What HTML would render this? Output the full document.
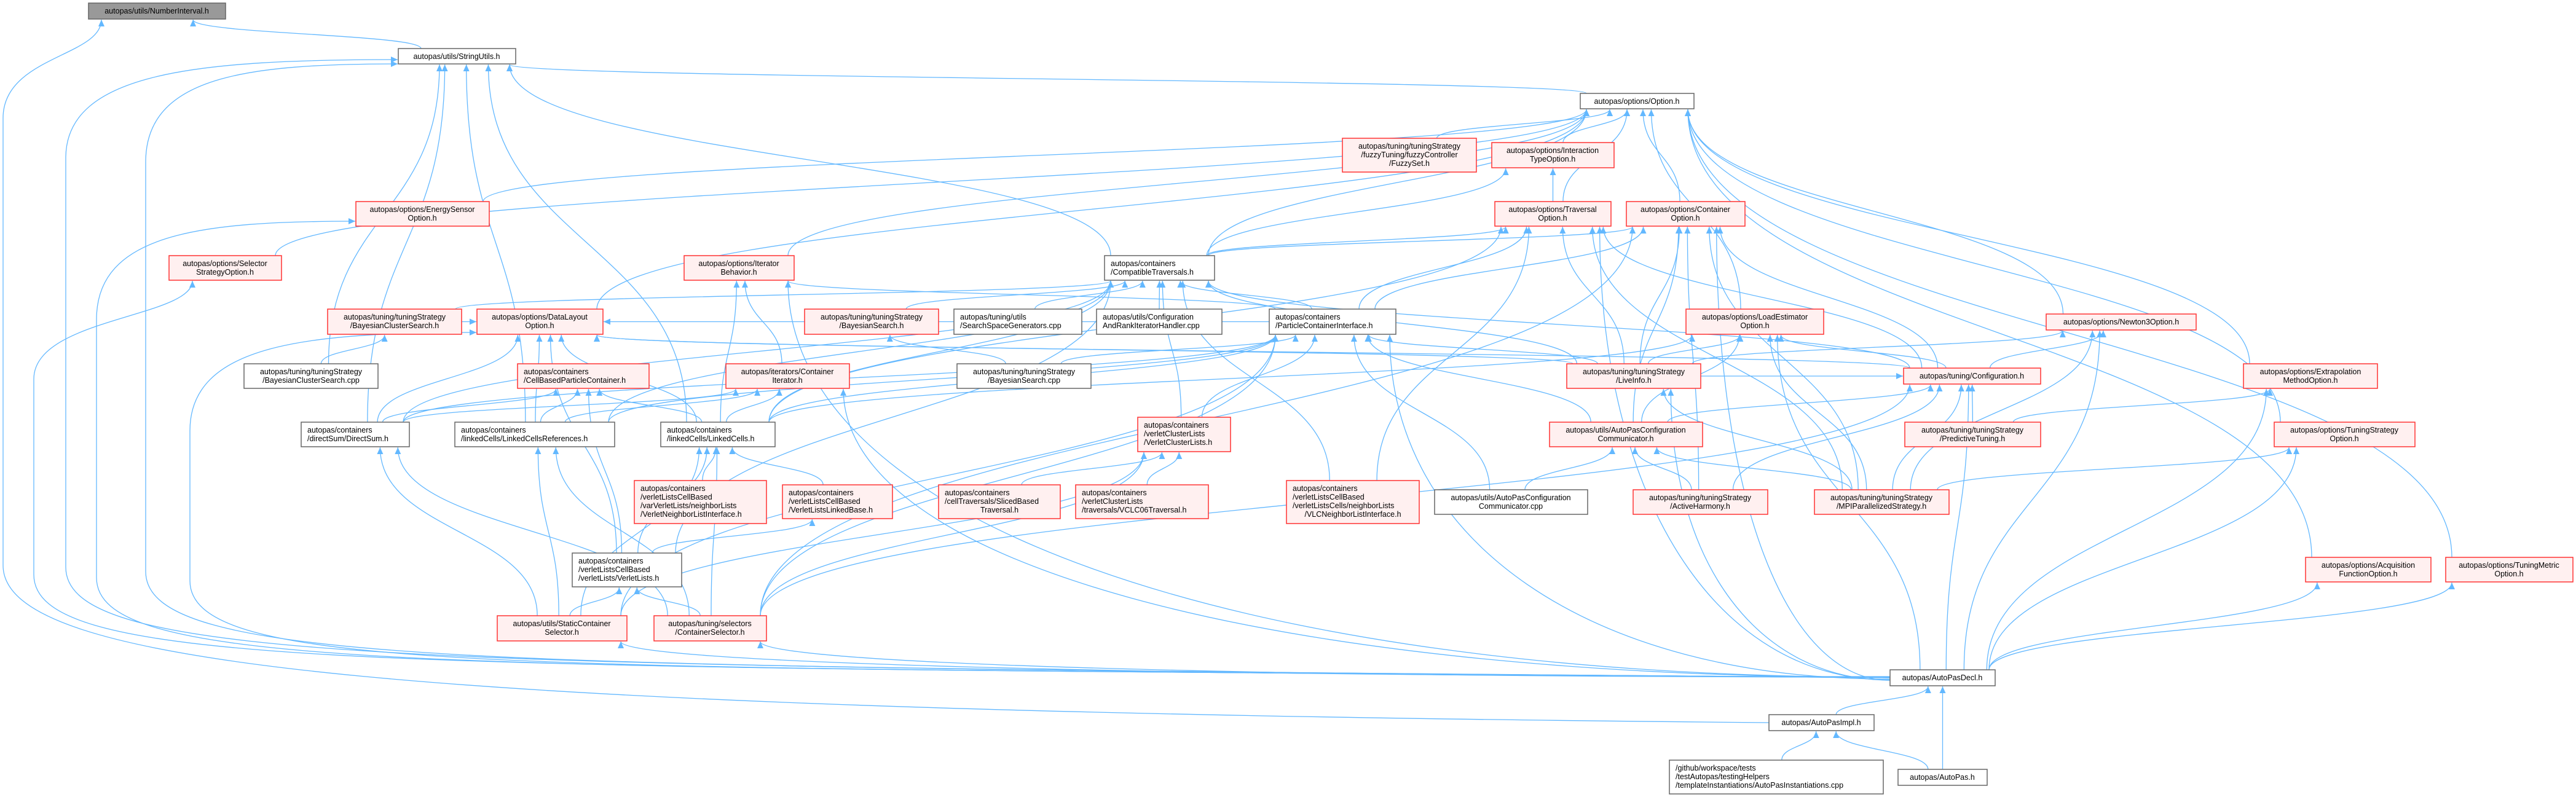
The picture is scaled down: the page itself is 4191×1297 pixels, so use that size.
<!DOCTYPE html>
<html><head><meta charset="utf-8">
<style>
html,body{margin:0;padding:0;background:#fff;}
svg{display:block;}
text{font-family:"Liberation Sans",sans-serif;font-size:12.5px;fill:#000;}
</style></head>
<body>
<svg id="g" width="4191" height="1297" viewBox="0 0 4191 1297" xmlns="http://www.w3.org/2000/svg">
<defs>
<marker id="a" markerUnits="userSpaceOnUse" markerWidth="12" markerHeight="10" refX="11" refY="5" orient="auto">
<path d="M0,0 L11,5 L0,10 z" fill="#63b8ff"/>
</marker>
</defs>
<g id="edges" fill="none" stroke="#63b8ff" stroke-width="1.3"></g>
<g id="nodes">
<rect x="144" y="5" width="223" height="26" fill="#999" stroke="#666" stroke-width="1.5"/><text x="255" y="22" text-anchor="middle">autopas/utils/NumberInterval.h</text>
<rect x="648" y="79" width="191" height="25" fill="#fff" stroke="#666" stroke-width="1.5"/><text x="743" y="96" text-anchor="middle">autopas/utils/StringUtils.h</text>
<rect x="2571" y="152" width="185" height="25" fill="#fff" stroke="#666" stroke-width="1.5"/><text x="2663" y="169" text-anchor="middle">autopas/options/Option.h</text>
<rect x="2184" y="225" width="218" height="55" fill="#fff0f0" stroke="#f33" stroke-width="1.5"/><text x="2293" y="242" text-anchor="middle">autopas/tuning/tuningStrategy</text><text x="2293" y="256" text-anchor="middle">/fuzzyTuning/fuzzyController</text><text x="2293" y="270" text-anchor="middle">/FuzzySet.h</text>
<rect x="2427" y="232" width="199" height="41" fill="#fff0f0" stroke="#f33" stroke-width="1.5"/><text x="2526" y="249" text-anchor="middle">autopas/options/Interaction</text><text x="2526" y="263" text-anchor="middle">TypeOption.h</text>
<rect x="579" y="328" width="217" height="40" fill="#fff0f0" stroke="#f33" stroke-width="1.5"/><text x="687" y="345" text-anchor="middle">autopas/options/EnergySensor</text><text x="687" y="359" text-anchor="middle">Option.h</text>
<rect x="2432" y="328" width="189" height="40" fill="#fff0f0" stroke="#f33" stroke-width="1.5"/><text x="2526" y="345" text-anchor="middle">autopas/options/Traversal</text><text x="2526" y="359" text-anchor="middle">Option.h</text>
<rect x="2646" y="328" width="193" height="40" fill="#fff0f0" stroke="#f33" stroke-width="1.5"/><text x="2742" y="345" text-anchor="middle">autopas/options/Container</text><text x="2742" y="359" text-anchor="middle">Option.h</text>
<rect x="275" y="416" width="183" height="40" fill="#fff0f0" stroke="#f33" stroke-width="1.5"/><text x="366" y="433" text-anchor="middle">autopas/options/Selector</text><text x="366" y="447" text-anchor="middle">StrategyOption.h</text>
<rect x="1113" y="416" width="179" height="40" fill="#fff0f0" stroke="#f33" stroke-width="1.5"/><text x="1202" y="433" text-anchor="middle">autopas/options/Iterator</text><text x="1202" y="447" text-anchor="middle">Behavior.h</text>
<rect x="1797" y="416" width="179" height="40" fill="#fff" stroke="#666" stroke-width="1.5"/><text x="1807" y="433">autopas/containers</text><text x="1807" y="447">/CompatibleTraversals.h</text>
<rect x="533" y="503" width="218" height="41" fill="#fff0f0" stroke="#f33" stroke-width="1.5"/><text x="642" y="520" text-anchor="middle">autopas/tuning/tuningStrategy</text><text x="642" y="534" text-anchor="middle">/BayesianClusterSearch.h</text>
<rect x="776" y="503" width="205" height="41" fill="#fff0f0" stroke="#f33" stroke-width="1.5"/><text x="878" y="520" text-anchor="middle">autopas/options/DataLayout</text><text x="878" y="534" text-anchor="middle">Option.h</text>
<rect x="1309" y="503" width="218" height="41" fill="#fff0f0" stroke="#f33" stroke-width="1.5"/><text x="1418" y="520" text-anchor="middle">autopas/tuning/tuningStrategy</text><text x="1418" y="534" text-anchor="middle">/BayesianSearch.h</text>
<rect x="1552" y="503" width="208" height="41" fill="#fff" stroke="#666" stroke-width="1.5"/><text x="1562" y="520">autopas/tuning/utils</text><text x="1562" y="534">/SearchSpaceGenerators.cpp</text>
<rect x="1784" y="503" width="204" height="41" fill="#fff" stroke="#666" stroke-width="1.5"/><text x="1794" y="520">autopas/utils/Configuration</text><text x="1794" y="534">AndRankIteratorHandler.cpp</text>
<rect x="2065" y="503" width="206" height="41" fill="#fff" stroke="#666" stroke-width="1.5"/><text x="2075" y="520">autopas/containers</text><text x="2075" y="534">/ParticleContainerInterface.h</text>
<rect x="2743" y="503" width="224" height="41" fill="#fff0f0" stroke="#f33" stroke-width="1.5"/><text x="2855" y="520" text-anchor="middle">autopas/options/LoadEstimator</text><text x="2855" y="534" text-anchor="middle">Option.h</text>
<rect x="3329" y="511" width="244" height="26" fill="#fff0f0" stroke="#f33" stroke-width="1.5"/><text x="3451" y="528" text-anchor="middle">autopas/options/Newton3Option.h</text>
<rect x="397" y="592" width="218" height="40" fill="#fff" stroke="#666" stroke-width="1.5"/><text x="506" y="609" text-anchor="middle">autopas/tuning/tuningStrategy</text><text x="506" y="623" text-anchor="middle">/BayesianClusterSearch.cpp</text>
<rect x="842" y="592" width="214" height="40" fill="#fff0f0" stroke="#f33" stroke-width="1.5"/><text x="852" y="609">autopas/containers</text><text x="852" y="623">/CellBasedParticleContainer.h</text>
<rect x="1181" y="592" width="201" height="40" fill="#fff0f0" stroke="#f33" stroke-width="1.5"/><text x="1281" y="609" text-anchor="middle">autopas/iterators/Container</text><text x="1281" y="623" text-anchor="middle">Iterator.h</text>
<rect x="1557" y="592" width="218" height="40" fill="#fff" stroke="#666" stroke-width="1.5"/><text x="1666" y="609" text-anchor="middle">autopas/tuning/tuningStrategy</text><text x="1666" y="623" text-anchor="middle">/BayesianSearch.cpp</text>
<rect x="2549" y="592" width="218" height="40" fill="#fff0f0" stroke="#f33" stroke-width="1.5"/><text x="2658" y="609" text-anchor="middle">autopas/tuning/tuningStrategy</text><text x="2658" y="623" text-anchor="middle">/LiveInfo.h</text>
<rect x="3097" y="599" width="223" height="26" fill="#fff0f0" stroke="#f33" stroke-width="1.5"/><text x="3208" y="616" text-anchor="middle">autopas/tuning/Configuration.h</text>
<rect x="3650" y="592" width="218" height="40" fill="#fff0f0" stroke="#f33" stroke-width="1.5"/><text x="3759" y="609" text-anchor="middle">autopas/options/Extrapolation</text><text x="3759" y="623" text-anchor="middle">MethodOption.h</text>
<rect x="490" y="687" width="176" height="40" fill="#fff" stroke="#666" stroke-width="1.5"/><text x="500" y="704">autopas/containers</text><text x="500" y="718">/directSum/DirectSum.h</text>
<rect x="740" y="687" width="260" height="40" fill="#fff" stroke="#666" stroke-width="1.5"/><text x="750" y="704">autopas/containers</text><text x="750" y="718">/linkedCells/LinkedCellsReferences.h</text>
<rect x="1075" y="687" width="186" height="40" fill="#fff" stroke="#666" stroke-width="1.5"/><text x="1085" y="704">autopas/containers</text><text x="1085" y="718">/linkedCells/LinkedCells.h</text>
<rect x="1851" y="679" width="151" height="56" fill="#fff0f0" stroke="#f33" stroke-width="1.5"/><text x="1861" y="696">autopas/containers</text><text x="1861" y="710">/verletClusterLists</text><text x="1861" y="724">/VerletClusterLists.h</text>
<rect x="2521" y="687" width="249" height="40" fill="#fff0f0" stroke="#f33" stroke-width="1.5"/><text x="2645" y="704" text-anchor="middle">autopas/utils/AutoPasConfiguration</text><text x="2645" y="718" text-anchor="middle">Communicator.h</text>
<rect x="3099" y="687" width="221" height="40" fill="#fff0f0" stroke="#f33" stroke-width="1.5"/><text x="3209" y="704" text-anchor="middle">autopas/tuning/tuningStrategy</text><text x="3209" y="718" text-anchor="middle">/PredictiveTuning.h</text>
<rect x="3700" y="687" width="229" height="40" fill="#fff0f0" stroke="#f33" stroke-width="1.5"/><text x="3814" y="704" text-anchor="middle">autopas/options/TuningStrategy</text><text x="3814" y="718" text-anchor="middle">Option.h</text>
<rect x="1032" y="782" width="215" height="70" fill="#fff0f0" stroke="#f33" stroke-width="1.5"/><text x="1042" y="799">autopas/containers</text><text x="1042" y="813">/verletListsCellBased</text><text x="1042" y="827">/varVerletLists/neighborLists</text><text x="1042" y="841">/VerletNeighborListInterface.h</text>
<rect x="1273" y="789" width="179" height="55" fill="#fff0f0" stroke="#f33" stroke-width="1.5"/><text x="1283" y="806">autopas/containers</text><text x="1283" y="820">/verletListsCellBased</text><text x="1283" y="834">/VerletListsLinkedBase.h</text>
<rect x="1527" y="789" width="198" height="55" fill="#fff0f0" stroke="#f33" stroke-width="1.5"/><text x="1537" y="806">autopas/containers</text><text x="1537" y="820">/cellTraversals/SlicedBased</text><text x="1626" y="834" text-anchor="middle">Traversal.h</text>
<rect x="1750" y="789" width="216" height="55" fill="#fff0f0" stroke="#f33" stroke-width="1.5"/><text x="1760" y="806">autopas/containers</text><text x="1760" y="820">/verletClusterLists</text><text x="1760" y="834">/traversals/VCLC06Traversal.h</text>
<rect x="2093" y="782" width="216" height="70" fill="#fff0f0" stroke="#f33" stroke-width="1.5"/><text x="2103" y="799">autopas/containers</text><text x="2103" y="813">/verletListsCellBased</text><text x="2103" y="827">/verletListsCells/neighborLists</text><text x="2201" y="841" text-anchor="middle">/VLCNeighborListInterface.h</text>
<rect x="2334" y="797" width="249" height="40" fill="#fff" stroke="#666" stroke-width="1.5"/><text x="2458" y="814" text-anchor="middle">autopas/utils/AutoPasConfiguration</text><text x="2458" y="828" text-anchor="middle">Communicator.cpp</text>
<rect x="2657" y="797" width="219" height="40" fill="#fff0f0" stroke="#f33" stroke-width="1.5"/><text x="2766" y="814" text-anchor="middle">autopas/tuning/tuningStrategy</text><text x="2766" y="828" text-anchor="middle">/ActiveHarmony.h</text>
<rect x="2952" y="797" width="219" height="40" fill="#fff0f0" stroke="#f33" stroke-width="1.5"/><text x="3061" y="814" text-anchor="middle">autopas/tuning/tuningStrategy</text><text x="3061" y="828" text-anchor="middle">/MPIParallelizedStrategy.h</text>
<rect x="931" y="900" width="178" height="55" fill="#fff" stroke="#666" stroke-width="1.5"/><text x="941" y="917">autopas/containers</text><text x="941" y="931">/verletListsCellBased</text><text x="941" y="945">/verletLists/VerletLists.h</text>
<rect x="3751" y="907" width="204" height="40" fill="#fff0f0" stroke="#f33" stroke-width="1.5"/><text x="3853" y="924" text-anchor="middle">autopas/options/Acquisition</text><text x="3853" y="938" text-anchor="middle">FunctionOption.h</text>
<rect x="3979" y="907" width="207" height="40" fill="#fff0f0" stroke="#f33" stroke-width="1.5"/><text x="4082" y="924" text-anchor="middle">autopas/options/TuningMetric</text><text x="4082" y="938" text-anchor="middle">Option.h</text>
<rect x="809" y="1002" width="211" height="41" fill="#fff0f0" stroke="#f33" stroke-width="1.5"/><text x="914" y="1019" text-anchor="middle">autopas/utils/StaticContainer</text><text x="914" y="1033" text-anchor="middle">Selector.h</text>
<rect x="1064" y="1002" width="183" height="41" fill="#fff0f0" stroke="#f33" stroke-width="1.5"/><text x="1155" y="1019" text-anchor="middle">autopas/tuning/selectors</text><text x="1155" y="1033" text-anchor="middle">/ContainerSelector.h</text>
<rect x="3075" y="1090" width="171" height="26" fill="#fff" stroke="#666" stroke-width="1.5"/><text x="3160" y="1107" text-anchor="middle">autopas/AutoPasDecl.h</text>
<rect x="2878" y="1163" width="171" height="26" fill="#fff" stroke="#666" stroke-width="1.5"/><text x="2963" y="1180" text-anchor="middle">autopas/AutoPasImpl.h</text>
<rect x="2716" y="1237" width="348" height="55" fill="#fff" stroke="#666" stroke-width="1.5"/><text x="2726" y="1254">/github/workspace/tests</text><text x="2726" y="1268">/testAutopas/testingHelpers</text><text x="2726" y="1282">/templateInstantiations/AutoPasInstantiations.cpp</text>
<rect x="3088" y="1252" width="145" height="26" fill="#fff" stroke="#666" stroke-width="1.5"/><text x="3160" y="1269" text-anchor="middle">autopas/AutoPas.h</text>
</g>
</svg>
<script>
var N={N:[144,5,223,26],SU:[648,79,191,25],OP:[2571,152,185,25],FZ:[2184,225,218,55],IT:[2427,232,199,41],EN:[579,328,217,40],TR:[2432,328,189,40],CO:[2646,328,193,40],SS:[275,416,183,40],IB:[1113,416,179,40],CT:[1797,416,179,40],BCS:[533,503,218,41],DL:[776,503,205,41],BS:[1309,503,218,41],SSG:[1552,503,208,41],CRI:[1784,503,204,41],PCI:[2065,503,206,41],LE:[2743,503,224,41],N3:[3329,511,244,26],BCSc:[397,592,218,40],CBP:[842,592,214,40],CI:[1181,592,201,40],BSc:[1557,592,218,40],LI:[2549,592,218,40],CF:[3097,599,223,26],EX:[3650,592,218,40],DS:[490,687,176,40],LCR:[740,687,260,40],LC:[1075,687,186,40],VCL:[1851,679,151,56],ACC:[2521,687,249,40],PT:[3099,687,221,40],TSO:[3700,687,229,40],VNLI:[1032,782,215,70],VLLB:[1273,789,179,55],SBT:[1527,789,198,55],VC06:[1750,789,216,55],VLCN:[2093,782,216,70],ACCc:[2334,797,249,40],AH:[2657,797,219,40],MPI:[2952,797,219,40],VL:[931,900,178,55],AF:[3751,907,204,40],TM:[3979,907,207,40],SCS:[809,1002,211,41],CS:[1064,1002,183,41],AD:[3075,1090,171,26],AI:[2878,1163,171,26],TC:[2716,1237,348,55],AP:[3088,1252,145,26]};
var E={SU:['OP','CT','DS','LCR','LC','BCSc'],N:['SU'],
OP:['EN','SS','IB','DL','FZ','IT','TR','CO','LE','N3','EX','TSO','AF','TM','CT'],
IT:['TR','CT'],TR:['CT','PCI','CF','LI','VLCN','MPI','AD','LC'],
CO:['CT','PCI','CF','LI','ACC','MPI','AD','CS','AH'],IB:['CI','LC','PCI','AD'],
CT:['BS','SSG','CRI','PCI','LC','LCR','DS','VCL','VLCN','VL','BCS','LI','CF'],
DL:['BCS','DS','LCR','LC','VL','PCI','CF','LI'],BCS:['BCSc'],BS:['BSc'],
PCI:['BSc','VCL','LC','LCR','DS','ACC','ACCc','LI','CS','AD','SCS'],
CBP:['DS','LCR','LC','VL'],CI:['DS','LCR','LC','AD'],LC:['VNLI','VLLB','VL','SCS','CS'],
LCR:['SCS','CS'],DS:['SCS','CS'],VCL:['SBT','VC06','SCS','CS'],VLLB:['VL'],VL:['SCS','CS'],
SCS:['AD'],CS:['AD'],LE:['CF','LI','ACC','MPI','LC','AD'],N3:['CF','MPI','AD','LI'],
CF:['PT','ACC','AH','MPI','LI','AD','CS'],ACC:['ACCc','AH','MPI'],EX:['PT','AD'],TSO:['MPI','AD'],
AF:['AD'],TM:['AD'],AD:['AI','AP'],AI:['TC','AP'],LI:['MPI','AD']};
var g=document.getElementById('edges'),ns='http://www.w3.org/2000/svg';
function add(d){var p=document.createElementNS(ns,'path');p.setAttribute('d',d);p.setAttribute('marker-end','url(#a)');g.appendChild(p);}
function cl(v,a,b){return Math.max(a,Math.min(b,v));}
for(var par in E){E[par].forEach(function(ch){
 var P=N[par],C=N[ch];var pcx=P[0]+P[2]/2,ccx=C[0]+C[2]/2;
 var px=pcx+cl((ccx-pcx)*0.12,-P[2]/2+10,P[2]/2-10),py=P[1]+P[3]+1;
 var sx,sy,d;
 if(C[1]-(P[1]+P[3])<20){ // side by side
   sy=C[1]+C[3]/2;py=P[1]+P[3]/2;
   if(ccx<pcx){sx=C[0]+C[2];px=P[0]-1;}else{sx=C[0];px=P[0]+P[2]+1;}
   d='M'+sx+','+sy+' C'+((sx+px)/2)+','+sy+' '+((sx+px)/2)+','+py+' '+px+','+py;
 } else if(ch=='AD'&&pcx<3075&&Math.abs(ccx-pcx)>400){
   sx=3075;sy=1098+((pcx/300)%14);var dx=sx-px,dy=sy-py;
   d='M'+sx+','+sy+' C'+(sx-0.6*dx)+','+sy+' '+px+','+(py+0.6*dy)+' '+px+','+py;
 } else {
   sx=ccx+cl((pcx-ccx)*0.12,-C[2]/2+10,C[2]/2-10);sy=C[1];var k=(sy-py)*0.5;
   d='M'+sx+','+sy+' C'+sx+','+(sy-k)+' '+px+','+(py+k)+' '+px+','+py;
 }
 add(d);});}
// long routes around the left side
function via(ch,vx,ylow,tx,ty,side){
 var C=N[ch];var sx=C[0],sy=C[1]+C[3]/2;
 var d='M'+sx+','+sy+' C'+(vx+600)+','+(sy-20)+' '+vx+','+(ylow+40)+' '+vx+','+(ylow-120)+' L'+vx+','+(ty+160);
 if(side) d+=' C'+vx+','+(ty+20)+' '+(vx+(tx-vx)*0.4)+','+ty+' '+tx+','+ty;
 else d+=' C'+vx+','+(ty+60)+' '+tx+','+(ty+60)+' '+tx+','+ty;
 add(d);}
via('AI',5,1040,165,32,false);
via('AD',107,1043,647,97,true);
via('AD',237,1050,647,104,true);
via('AD',55,1055,313,457,false);
via('AD',157,1060,578,360,true);
via('AD',309,1065,775,541,true);
</script>
</body></html>
